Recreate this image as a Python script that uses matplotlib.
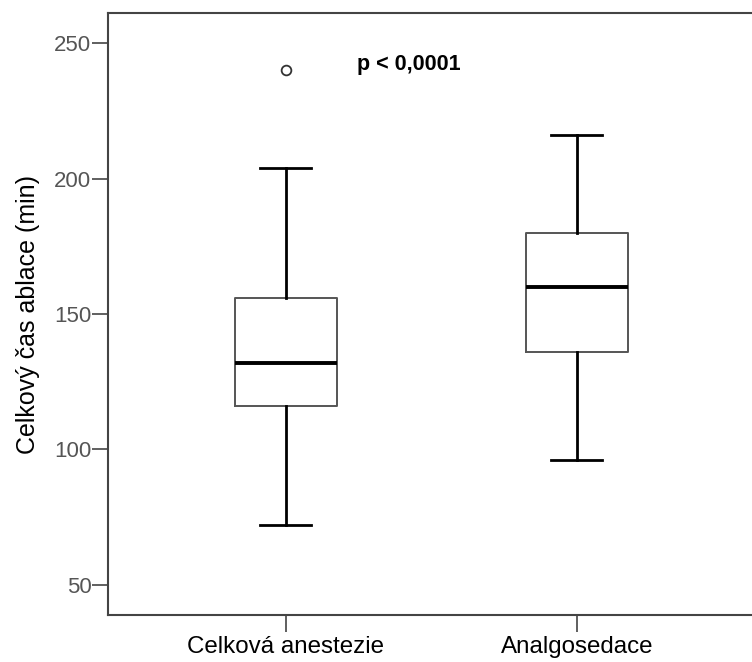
import matplotlib
matplotlib.use("Agg")
import matplotlib.pyplot as plt

# ---- data ----
categories = ["Celková anestezie", "Analgosedace"]
whisker_low = [72, 96]
q1 = [116, 136]
median = [132, 160]
q3 = [156, 180]
whisker_high = [204, 216]
outliers = [[240], []]
yticks = [50, 100, 150, 200, 250]
ylabel = "Celkový čas ablace (min)"
ptext = "p < 0,0001"

plt.rcParams['font.family'] = ['Liberation Sans', 'DejaVu Sans']

fig = plt.figure(figsize=(7.52, 6.62), dpi=100)
ax = fig.add_axes([108/752, 47/662, (754.5-108)/752, (615-13)/662])

stats = []
for i, c in enumerate(categories):
    stats.append(dict(label=c, whislo=whisker_low[i], q1=q1[i], med=median[i],
                      q3=q3[i], whishi=whisker_high[i], fliers=outliers[i]))

positions = list(range(1, len(categories) + 1))
ax.bxp(stats, positions=positions, widths=0.35, capwidths=0.175,
       boxprops=dict(color='#555555', linewidth=1.4),
       whiskerprops=dict(color='black', linewidth=2.0),
       capprops=dict(color='black', linewidth=2.0),
       medianprops=dict(color='black', linewidth=2.8),
       flierprops=dict(marker='o', markersize=7, markerfacecolor='white',
                       markeredgecolor='#333333', markeredgewidth=1.3))

ax.set_xlim(0.391, 2.609)
ax.set_ylim(38.9, 261.1)
ax.set_yticks(yticks)
ax.set_xticks(positions)
ax.set_xticklabels(categories)

for s in ax.spines.values():
    s.set_color('#444444')
    s.set_linewidth(1.5)

ax.tick_params(axis='y', length=11.5, width=1.2, color='#444444',
               labelsize=16, labelcolor='#555555', pad=0.5)
ax.tick_params(axis='x', length=12, width=1.2, color='#444444',
               labelsize=17.4, labelcolor='black', pad=3)
ax.set_ylabel(ylabel, fontsize=18, color='black', labelpad=10)

ax.text(1.245, 240, ptext, fontsize=15.5, fontweight='bold',
        ha='left', va='baseline')

fig.savefig("out.png", dpi=100)
